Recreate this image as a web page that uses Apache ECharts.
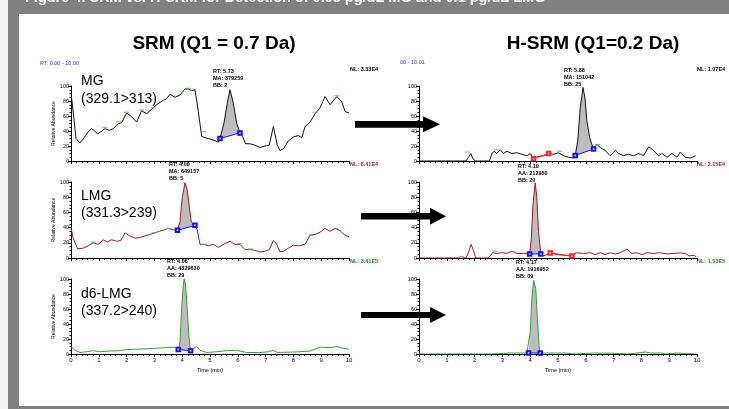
<!DOCTYPE html>
<html><head><meta charset="utf-8">
<script src="https://cdn.jsdelivr.net/npm/echarts@6/dist/echarts.min.js"></script>
<style>html,body{margin:0;padding:0;background:#fff}#c{width:729px;height:409px}</style>
</head><body><div id="c"></div>
<script>
// ---------- DATA ----------
// Panel A (SRM, MG 329.1>313)
const srmMgT = [0,0.06,0.18,0.32,0.47,0.62,0.74,0.86,0.95,1.07,1.22,1.38,1.52,1.70,1.82,2.00,2.18,2.36,2.54,2.72,2.90,3.08,3.32,3.44,3.56,3.74,3.92,4.10,4.22,4.34,4.46,4.58,4.70,4.82,4.94,5.12,5.30,5.36,5.50,5.62,5.72,5.84,5.96,6.08,6.16,6.28,6.44,6.62,6.80,6.98,7.13,7.28,7.42,7.52,7.66,7.82,8.00,8.18,8.30,8.42,8.60,8.78,8.96,9.14,9.32,9.56,9.74,9.86,10.0];
const srmMgV = [90,72,30,24,31,39,43,40,36,39,43,41,43,50,51,64,59,52,67,63,69,75,81,83,89,85,88,96,96,94,95,66,33,31,30,28,25,30,50,77,95,77,50,37.5,34,23,23,21,18,20,21,46,21,14,17,27,32,34,31,46,52,63,71,86,75,86,79,66,64];
const srmMgPeak = [5.36,6.08];
const srmMgBase = [30,37.5];
const srmMgMarkT = [1.22,1.70,2.00,2.54,2.96,4.22,4.78,6.06,8.78,9.56];
const srmMgMarkV = [44.6,52,65,68,71,97,39,40,65,87];

// Panel B (SRM, LMG 331.3>239)
const srmLmgT = [0,0.08,0.24,0.44,0.62,0.80,0.98,1.16,1.31,1.46,1.64,1.79,1.94,2.12,2.30,2.48,2.66,2.84,2.99,3.18,3.35,3.50,3.68,3.83,3.92,4.00,4.10,4.18,4.26,4.33,4.46,4.54,4.64,4.78,4.94,5.12,5.30,5.48,5.72,5.90,6.08,6.26,6.44,6.62,6.80,6.98,7.13,7.28,7.40,7.52,7.66,7.82,8.00,8.18,8.42,8.60,8.78,8.96,9.14,9.32,9.50,9.68,9.86,10.0];
const srmLmgV = [40,26,12,13,16,20,18,24,21,24,22,23,33,29,26,27,29,31,33,35,37,39,37,36.4,48,79,99,90,66,47,43,37,18,18,16,18,14,18,22,18,18,11,11,10,8,9,11,23,18,8,9,13,17,16,18,30,31,34,39,35,39,36,30,28];
const srmLmgPeak = [3.83,4.46];
const srmLmgBase = [36.4,43];
const srmLmgMarkT = [0.80,2.99,3.54,4.82,6.08,6.46,8.63,9.53];
const srmLmgMarkV = [21,33,39,18,19,12,30,39];

// Panel C (SRM, d6-LMG 337.2>240)
const srmD6T = [0,0.14,0.32,0.56,0.80,1.04,1.40,1.76,2.00,2.48,2.96,3.44,3.74,3.86,3.92,3.98,4.04,4.07,4.12,4.18,4.24,4.30,4.42,4.52,4.64,4.88,5.24,5.60,5.96,6.32,6.80,7.10,7.28,7.42,7.88,8.24,8.60,8.96,9.32,9.56,9.80,10.0];
const srmD6V = [10,5,2,3,4.5,3,4,4.5,6,6.5,7.5,8.5,9,6,16,61,92,100,92,61,25,4.4,7.5,10,5,2,3,4.5,5,2,2,3,5,2,2.5,3,4,9,8.5,10,7.5,6.5];
const srmD6Peak = [3.86,4.30];
const srmD6Base = [6,4.4];

// Panel D (H-SRM, MG)
const hMgT = [0,1.69,1.78,1.86,1.93,2.02,2.53,2.63,2.70,2.80,2.92,3.04,3.16,3.34,3.52,3.70,3.88,4.00,4.12,4.30,4.48,4.66,4.84,5.02,5.20,5.38,5.56,5.62,5.71,5.80,5.90,5.97,6.04,6.14,6.21,6.28,6.40,6.52,6.70,6.88,7.06,7.18,7.36,7.54,7.72,7.90,8.08,8.26,8.44,8.62,8.74,8.92,9.10,9.28,9.40,9.58,9.77,9.95];
const hMgV = [0,0,5,10,4,0,0,10,13,10,15,10,13,10,11,9,7,10,3,6,7,10,9,11,7,5,4,7.4,27,71,98,84,53,31,23,16,22,18,14,7,14,10,7,9,7,10,7,19,14,7,10,5,10,5,12,5,4,7];
const hMgPeak = [5.62,6.28];
const hMgBase = [7.4,16];
const hMgRedT = [4.12,4.66];
const hMgRedV = [3,10];
const hMgMarkT = [1.74,2.77,5.06,6.43,8.00,8.71];
const hMgMarkV = [12,15,13,22,9,10];

// Panel E (H-SRM, LMG)
const hLmgT = [0,1.69,1.78,1.87,1.96,2.04,2.50,2.65,2.80,2.98,3.16,3.34,3.52,3.76,3.98,4.04,4.10,4.18,4.24,4.30,4.38,4.48,4.60,4.74,4.96,5.20,5.50,5.68,5.92,6.16,6.34,6.52,6.70,6.88,7.06,7.24,7.48,7.66,7.84,8.02,8.20,8.44,8.68,8.92,9.16,9.40,9.59,9.71,9.89,9.98];
const hLmgV = [0,0,7,18,10,0,0,7,6,7,6,9,6,6,5.3,26,70,99,79,35,5.3,3,4.4,6.7,4.4,3.6,2.7,7,6,7,4.4,7,4.4,7,5.3,7,11.5,6,7,4.4,7,6,7,5.3,6,6.7,6,2.7,3.6,1.3];
const hLmgPeak = [3.98,4.38];
const hLmgBase = [5.3,5.3];
const hLmgRedT = [4.72,5.50];
const hLmgRedV = [6.5,2.7];
const hLmgMarkT = [1.54,2.74,5.68];
const hLmgMarkV = [2,9,7];

// Panel F (H-SRM, d6-LMG)
const hD6T = [0,2.62,2.68,3.28,3.88,3.94,4.00,4.06,4.12,4.14,4.20,4.26,4.32,4.36,4.60,5.26,5.32,5.62,5.68,6.28,7.00,7.48,7.84,8.14,8.32,8.74,8.86,9.28,9.59,9.98];
const hD6V = [0,0,1.3,1.3,1.3,1.3,29,73,98,100,87,47,11,1.3,1.3,1.3,0,0,1.3,1.3,1,0,1.3,2.7,1.3,1.3,0,1.3,0.5,0];
const hD6Peak = [3.94,4.36];
const hD6Base = [1.3,1.3];

// Tick labels / text
const xTicks = ['0','1','2','3','4','5','6','7','8','9','10'];
const colTitles = ['SRM (Q1 = 0.7 Da)', 'H-SRM (Q1=0.2 Da)'];
const traceNames = [['MG','(329.1>313)'],['LMG','(331.3>239)'],['d6-LMG','(337.2>240)']];
const nlLeft = ['NL: 3.33E4','NL: 8.41E4','NL: 3.41E5'];
const nlRight = ['NL: 1.07E4','NL: 2.15E4','NL: 1.53E5'];
const annLeft = [['RT: 5.73','MA: 379259','BB: 2'],['RT: 4.09','MA: 649157','BB: 5'],['RT: 4.06','AA: 4329630','BB: 29']];
const annRight = [['RT: 5.88','MA: 151042','BB: 25'],['RT: 4.19','AA: 212950','BB: 20'],['RT: 4.17','AA: 1916952','BB: 09']];

// ---------- CHART ----------
const chart = echarts.init(document.getElementById('c'), null, {renderer:'canvas'});
const FONT = 'Liberation Sans, Arial, sans-serif';
const rowTop = [86,182,279], rowH = [75,76,75];
const colLeft = [71,419], W = 278;
const lineColors = ['#111111','#9c1c1c','#3a9a3a'];
const nlColors = ['#000000','#9c1c1c','#1a8a1a'];

const panels = [
  {T:srmMgT,V:srmMgV,peak:srmMgPeak,base:srmMgBase,mT:srmMgMarkT,mV:srmMgMarkV},
  {T:srmLmgT,V:srmLmgV,peak:srmLmgPeak,base:srmLmgBase,mT:srmLmgMarkT,mV:srmLmgMarkV},
  {T:srmD6T,V:srmD6V,peak:srmD6Peak,base:srmD6Base},
  {T:hMgT,V:hMgV,peak:hMgPeak,base:hMgBase,rT:hMgRedT,rV:hMgRedV,mT:hMgMarkT,mV:hMgMarkV},
  {T:hLmgT,V:hLmgV,peak:hLmgPeak,base:hLmgBase,rT:hLmgRedT,rV:hLmgRedV,mT:hLmgMarkT,mV:hLmgMarkV},
  {T:hD6T,V:hD6V,peak:hD6Peak,base:hD6Base}
];

const grids=[], xAxes=[], yAxes=[], series=[];
panels.forEach((p,i)=>{
  const col = i<3?0:1, row = i%3;
  grids.push({left:colLeft[col], top:rowTop[row], width:W, height:rowH[row]});
  const bottom = row===2;
  xAxes.push({gridIndex:i, type:'value', min:0, max:10, interval:1,
    axisLine:{lineStyle:{color:'#000',width:1}},
    axisTick:{show:true,length:3,lineStyle:{color:'#000',width:1}},
    minorTick:{show:true,splitNumber:5,length:2,lineStyle:{color:'#000',width:1}},
    splitLine:{show:false},
    axisLabel:{show:bottom,fontSize:6,margin:3,color:'#000',fontFamily:FONT,formatter:(v)=>xTicks[Math.round(v)]},
    name:bottom?'Time (min)':'', nameLocation:'middle', nameGap:13,
    nameTextStyle:{fontSize:5.5,color:'#000',fontFamily:FONT}});
  yAxes.push({gridIndex:i, type:'value', min:0, max:100, interval:20,
    axisLine:{show:true,lineStyle:{color:'#000',width:1}},
    axisTick:{show:true,length:3,lineStyle:{color:'#000'}},
    minorTick:{show:true,splitNumber:4,length:1.5,lineStyle:{color:'#000'}},
    splitLine:{show:false},
    axisLabel:{fontSize:5.5,margin:2,color:'#000',fontFamily:FONT},
    name:col===0?'Relative Abundance':'', nameLocation:'middle', nameRotate:90, nameGap:14,
    nameTextStyle:{fontSize:5,color:'#000',fontFamily:FONT}});
  const color = lineColors[row];
  // peak fill
  series.push({type:'custom', xAxisIndex:i, yAxisIndex:i, z:1, silent:true,
    data:[[p.peak[0], p.base[0]]],
    renderItem:(params, api)=>{
      const pts=[];
      p.T.forEach((t,k)=>{ if(t>=p.peak[0]-1e-9 && t<=p.peak[1]+1e-9) pts.push(api.coord([t,p.V[k]])); });
      return {type:'polygon', shape:{points:pts}, style:{fill:'#bdbdbd', stroke:null}};
    }});
  // trace
  series.push({type:'line', xAxisIndex:i, yAxisIndex:i, z:3, symbol:'none', showSymbol:false,
    data:p.T.map((t,k)=>[t,p.V[k]]), lineStyle:{color:color,width:1}, animation:false});
  // red baseline
  if(p.rT){
    series.push({type:'line', xAxisIndex:i, yAxisIndex:i, z:4, symbol:'emptyRect', symbolSize:3.5,
      data:p.rT.map((t,k)=>[t,p.rV[k]]), lineStyle:{color:'#ff2020',width:1}, itemStyle:{color:'#ff2020',borderWidth:1}, animation:false});
  }
  // blue baseline
  series.push({type:'line', xAxisIndex:i, yAxisIndex:i, z:5, symbol:'emptyRect', symbolSize:3.5,
    data:[[p.peak[0],p.base[0]],[p.peak[1],p.base[1]]], lineStyle:{color:'#1010ff',width:1}, itemStyle:{color:'#1010ff',borderWidth:1}, animation:false});
  // green detection marks
  if(p.mT){
    series.push({type:'scatter', xAxisIndex:i, yAxisIndex:i, z:4, symbol:'rect', symbolSize:[5,1.2],
      data:p.mT.map((t,k)=>[t,p.mV[k]]), itemStyle:{color:'#55c055'}, animation:false});
  }
});

const g = [];
// frame
g.push({type:'rect', shape:{x:0,y:0,width:8,height:409}, style:{fill:'#f2f2f2'}, z:0});
g.push({type:'rect', shape:{x:8,y:0,width:721,height:14}, style:{fill:'#808080'}, z:0});
g.push({type:'rect', shape:{x:8,y:0,width:11,height:409}, style:{fill:'#808080'}, z:0});
g.push({type:'rect', shape:{x:8,y:406,width:721,height:3}, style:{fill:'#808080'}, z:0});
g.push({type:'text', x:25, y:-2, style:{text:'Figure 4. SRM vs. H-SRM for Detection of 0.05 pg/uL MG and 0.1 pg/uL LMG', fill:'#fff', fontSize:14.5, fontWeight:'bold', fontFamily:FONT, verticalAlign:'middle', align:'left'}, z:5});
// column titles
g.push({type:'text', x:214, y:44, style:{text:colTitles[0], fill:'#000', fontSize:19, fontWeight:'bold', fontFamily:FONT, align:'center', verticalAlign:'middle'}});
g.push({type:'text', x:593, y:44, style:{text:colTitles[1], fill:'#000', fontSize:19, fontWeight:'bold', fontFamily:FONT, align:'center', verticalAlign:'middle'}});
// range labels
g.push({type:'text', x:40, y:63, style:{text:'RT: 0.00 - 10.00', fill:'#3333cc', fontSize:5.5, fontFamily:FONT, verticalAlign:'middle'}});
g.push({type:'text', x:400, y:62, style:{text:'00 - 10.01', fill:'#3333cc', fontSize:5.5, fontFamily:FONT, verticalAlign:'middle'}});
// trace names
const nameY = [[81,99],[196,213],[294,311]];
traceNames.forEach((n,r)=>{
  n.forEach((s,k)=>g.push({type:'text', x:81, y:nameY[r][k], style:{text:s, fill:'#000', fontSize:14, fontFamily:FONT, verticalAlign:'middle'}}));
});
// NL labels
const nlY = [69,164,261];
nlLeft.forEach((s,r)=>g.push({type:'text', x:350, y:nlY[r], style:{text:s, fill:nlColors[r], fontSize:5.5, fontWeight:'bold', fontFamily:FONT, verticalAlign:'middle'}}));
nlRight.forEach((s,r)=>g.push({type:'text', x:697, y:nlY[r], style:{text:s, fill:nlColors[r], fontSize:5.5, fontWeight:'bold', fontFamily:FONT, verticalAlign:'middle'}}));
// peak annotations
const annLPos = [[213,71],[169,164],[167,261]];
const annRPos = [[564,70],[518,166],[516,262]];
function ann(lines,pos){ lines.forEach((s,k)=>g.push({type:'text', x:pos[0], y:pos[1]+k*7, z:10, style:{text:s, fill:'#000', fontSize:5.5, fontWeight:'bold', fontFamily:FONT, verticalAlign:'middle'}})); }
annLeft.forEach((l,r)=>ann(l,annLPos[r]));
annRight.forEach((l,r)=>ann(l,annRPos[r]));
// arrows
const arrows = [[355,423,440,124.3,3.4,8],[361,430,446,216.3,3.2,8.5],[361,430,446,315,3,8]];
arrows.forEach(a=>{
  const [x0,xh,xt,cy,bw,hw]=a;
  g.push({type:'polygon', shape:{points:[[x0,cy-bw],[xh,cy-bw],[xh,cy-hw],[xt,cy],[xh,cy+hw],[xh,cy+bw],[x0,cy+bw]]}, style:{fill:'#000'}});
});

chart.setOption({
  animation:false,
  backgroundColor:'#fff',
  grid:grids, xAxis:xAxes, yAxis:yAxes, series:series, graphic:g
});
</script></body></html>
